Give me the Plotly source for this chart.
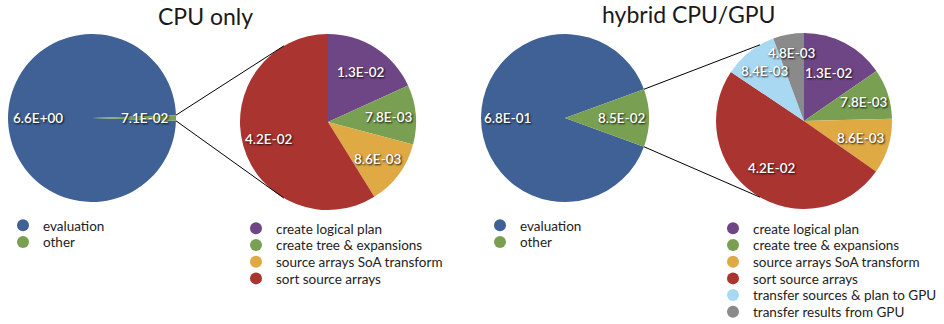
import math
import plotly.graph_objects as go

W, H = 944, 324

# ---------------- data ----------------
main_labels = ["evaluation", "other"]
cpu_main_values = [6.6, 0.071]
hyb_main_values = [0.68, 0.085]

detail_labels_cpu = ["create logical plan", "create tree & expansions",
                     "source arrays SoA transform", "sort source arrays"]
cpu_detail_values = [0.013, 0.0078, 0.0086, 0.042]

detail_labels_hyb = ["create logical plan", "create tree & expansions",
                     "source arrays SoA transform", "sort source arrays",
                     "transfer sources & plan to GPU", "transfer results from GPU"]
hyb_detail_values = [0.013, 0.0078, 0.0086, 0.042, 0.0084, 0.0048]

titles = ["CPU only", "hybrid CPU/GPU"]

# ---------------- style ----------------
C_BLUE = "#3F6195"
C_GREEN = "#79A052"
C_PURPLE = "#6E4585"
C_YELLOW = "#DFA944"
C_RED = "#AA3430"
C_LBLUE = "#A9D9F2"
C_GRAY = "#8A8A8A"
main_colors = [C_BLUE, C_GREEN]
detail_colors = [C_PURPLE, C_GREEN, C_YELLOW, C_RED, C_LBLUE, C_GRAY]

FONT = "Lato, 'Open Sans', sans-serif"
SHADOW = "1px 1px 2px rgba(0,0,0,0.9)"
LABEL_FONT = dict(family=FONT, size=13.5, color="white", shadow=SHADOW,
                  weight=600)

# pie geometry in pixels (cx, cy, r)
GEO = {
    "cpu_main": (92, 118, 84),
    "cpu_det": (328, 122, 88),
    "hyb_main": (565, 118, 84),
    "hyb_det": (804, 121, 88),
}

# label distance from the pie centre, as a fraction of the radius
LABEL_R = {
    "cpu_main": [0.64, 0.63],
    "cpu_det": [0.68, 0.69, 0.70, 0.70],
    "hyb_main": [0.69, 0.67],
    "hyb_det": [0.61, 0.71, 0.67, 0.65, 0.73, 0.78],
}


def px(x):
    return x / W


def py(y):
    return 1 - y / H


def domain(key):
    cx, cy, r = GEO[key]
    return dict(x=[px(cx - r), px(cx + r)], y=[py(cy + r), py(cy - r)])


def fmt(v):
    return f"{v:.1E}"


fig = go.Figure()
annotations = []
shapes = []


def add_pie(key, labels, vals, colors, rot):
    """Draw a clockwise pie and label each slice with its value."""
    fig.add_trace(go.Pie(
        labels=labels, values=vals, sort=False, direction="clockwise",
        rotation=rot, domain=domain(key),
        marker=dict(colors=colors, line=dict(width=0)),
        textinfo="none", hoverinfo="label+value", showlegend=False,
    ))
    cx, cy, r = GEO[key]
    total = sum(vals)
    edges = []
    acc = 0.0
    for v, lr in zip(vals, LABEL_R[key]):
        a0 = math.radians(rot + 360 * acc / total)
        acc += v
        a1 = math.radians(rot + 360 * acc / total)
        edges.append((a0, a1))
        mid = (a0 + a1) / 2
        annotations.append(dict(
            x=px(cx + lr * r * math.sin(mid)),
            y=py(cy - lr * r * math.cos(mid)),
            xref="paper", yref="paper", xanchor="center", yanchor="middle",
            text=fmt(v), showarrow=False, font=LABEL_FONT,
        ))
    return edges


def main_rotation(vals):
    f = vals[1] / sum(vals)
    return 90 + 180 * f   # centre the "other" slice at 3 o'clock


def connectors(main_key, other_edges, det_key):
    cx, cy, r = GEO[main_key]
    a0, a1 = other_edges
    dx, dy, dr = GEO[det_key]
    p_top = (cx + r * math.sin(a0), cy - r * math.cos(a0))
    p_bot = (cx + r * math.sin(a1), cy - r * math.cos(a1))
    t_top, t_bot = math.radians(330), math.radians(210)
    q_top = (dx + dr * math.sin(t_top), dy - dr * math.cos(t_top))
    q_bot = (dx + dr * math.sin(t_bot), dy - dr * math.cos(t_bot))
    for p, q in ((p_top, q_top), (p_bot, q_bot)):
        shapes.append(dict(type="line", xref="paper", yref="paper",
                           x0=px(p[0]), y0=py(p[1]), x1=px(q[0]), y1=py(q[1]),
                           line=dict(color="black", width=1)))


e1 = add_pie("cpu_main", main_labels, cpu_main_values, main_colors,
             main_rotation(cpu_main_values))
add_pie("cpu_det", detail_labels_cpu, cpu_detail_values,
        detail_colors[:len(cpu_detail_values)], 0)
e2 = add_pie("hyb_main", main_labels, hyb_main_values, main_colors,
             main_rotation(hyb_main_values))
add_pie("hyb_det", detail_labels_hyb, hyb_detail_values,
        detail_colors[:len(hyb_detail_values)], 0)
connectors("cpu_main", e1[1], "cpu_det")
connectors("hyb_main", e2[1], "hyb_det")

# legends: one small legend per entry so the row pitch matches the reference
legend_layout = {}
legend_count = [0]
ROW = 16.7


def legend_block(labels, colors, xm, ym0):
    for i, (lab, col) in enumerate(zip(labels, colors)):
        legend_count[0] += 1
        n = legend_count[0]
        key = "legend" if n == 1 else f"legend{n}"
        fig.add_trace(go.Scatter(
            x=[None], y=[None], mode="markers", name=lab, legend=key,
            marker=dict(symbol="circle", size=12, color=col),
            hoverinfo="skip", showlegend=True,
        ))
        ym = ym0 + i * ROW
        legend_layout[key] = dict(
            x=px(xm - 21), y=py(ym - 15), xanchor="left", yanchor="top",
            bgcolor="rgba(0,0,0,0)", borderwidth=0,
            font=dict(family=FONT, size=13.5, color="#222222"),
            itemclick=False, itemdoubleclick=False)


legend_block(main_labels, main_colors, 24, 225)
legend_block(detail_labels_cpu, detail_colors, 257, 228)
legend_block(main_labels, main_colors, 501, 225)
legend_block(detail_labels_hyb, detail_colors, 734, 228)

# titles
for t, (x, y) in zip(titles, [(205, 16), (688, 14)]):
    annotations.append(dict(x=px(x), y=py(y), xref="paper", yref="paper",
                            xanchor="center", yanchor="middle",
                            text=t, showarrow=False,
                            font=dict(family=FONT, size=23, color="#1a1a1a")))

fig.update_layout(
    width=W, height=H,
    margin=dict(l=0, r=0, t=0, b=0, autoexpand=False),
    paper_bgcolor="white", plot_bgcolor="white",
    xaxis=dict(visible=False), yaxis=dict(visible=False),
    annotations=annotations, shapes=shapes,
    **legend_layout,
)

fig.write_html("out.html")
